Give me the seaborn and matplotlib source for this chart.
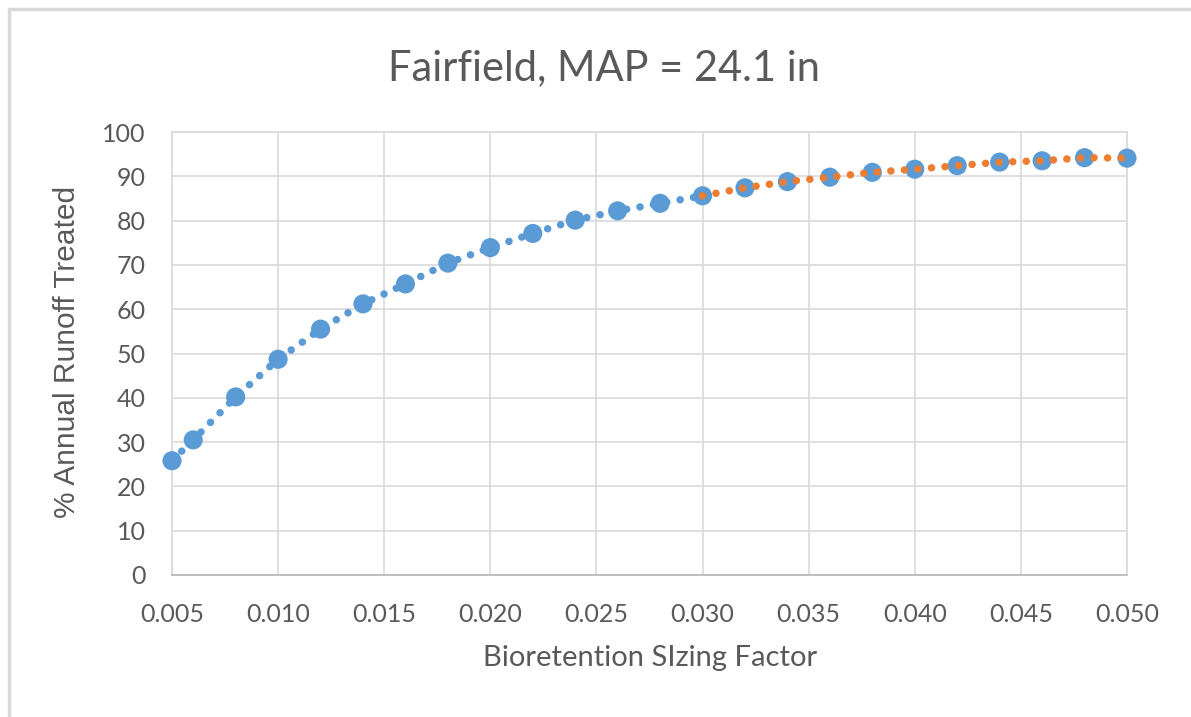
import matplotlib
matplotlib.use("Agg")
import matplotlib.pyplot as plt
import pandas as pd
import seaborn as sns
from matplotlib.lines import Line2D

# values
sizing_factor = [0.005, 0.006, 0.008, 0.010, 0.012, 0.014, 0.016, 0.018,
                 0.020, 0.022, 0.024, 0.026, 0.028, 0.030, 0.032, 0.034,
                 0.036, 0.038, 0.040, 0.042, 0.044, 0.046, 0.048, 0.050]
pct_treated = [25.8, 30.5, 40.2, 48.7, 55.5, 61.2, 65.7, 70.4,
               73.9, 77.1, 80.1, 82.2, 83.9, 85.6, 87.4, 88.8,
               89.8, 90.9, 91.6, 92.4, 93.2, 93.5, 94.2, 94.1]
trend_split = 0.030  # blue trend up to here, orange after
x_ticks = [0.005, 0.010, 0.015, 0.020, 0.025, 0.030, 0.035, 0.040, 0.045, 0.050]
y_ticks = [0, 10, 20, 30, 40, 50, 60, 70, 80, 90, 100]

TITLE = "Fairfield, MAP = 24.1 in"
XLABEL = "Bioretention SIzing Factor"
YLABEL = "% Annual Runoff Treated"

BLUE = "#5B9BD5"
ORANGE = "#ED7D31"
GRID = "#D9D9D9"
TEXT = "#595959"

df = pd.DataFrame({"sf": sizing_factor, "pct": pct_treated})
low = df[df.sf <= trend_split]
high = df[df.sf >= trend_split]

sns.set_theme(style="white")
plt.rcParams["font.family"] = ["Lato", "DejaVu Sans"]

fig = plt.figure(figsize=(11.91, 7.17), dpi=100)
ax = fig.add_axes([172 / 1191, 1 - 575 / 717, (1127 - 172) / 1191, (575 - 132) / 717])

sns.scatterplot(data=df, x="sf", y="pct", ax=ax, color=BLUE, s=190,
                edgecolor="none", clip_on=False, zorder=3)

sns.lineplot(data=low, x="sf", y="pct", ax=ax, color=BLUE, zorder=4)
sns.lineplot(data=high, x="sf", y="pct", ax=ax, color=ORANGE, zorder=4)
# excel-style round dotted trend lines
for ln in ax.lines:
    ln.set_linewidth(5.4)
    ln.set_dash_capstyle("round")
    ln.set_linestyle((0, (0.01, 1.8)))

ax.set_xlim(0.005, 0.050)
ax.set_ylim(0, 100)
ax.set_xticks(x_ticks)
ax.set_xticklabels([f"{v:.3f}" for v in x_ticks])
ax.set_yticks(y_ticks)
ax.grid(True, color=GRID, lw=1.2)
ax.tick_params(length=0, labelsize=18, colors=TEXT)
ax.tick_params(axis="x", pad=20)
ax.tick_params(axis="y", pad=19)
for s in ["top", "right", "left"]:
    ax.spines[s].set_color(GRID)
    ax.spines[s].set_linewidth(1.2)
ax.spines["bottom"].set_color("#BFBFBF")
ax.spines["bottom"].set_linewidth(1.4)

ax.set_xlabel(XLABEL, fontsize=21, color=TEXT)
ax.xaxis.set_label_coords(0.5005, -0.158)
ax.set_ylabel(YLABEL, fontsize=21.5, color=TEXT,
              family=["Liberation Sans", "DejaVu Sans"])
ax.yaxis.set_label_coords(-0.0953, 0.503)
fig.text(0.507, 1 - 68 / 717, TITLE, ha="center", va="center",
         fontsize=30, color=TEXT)

# chart frame, as in the screenshot (top and left edges only)
fig.add_artist(Line2D([9 / 1191, 1], [1 - 9 / 717] * 2, color=GRID, lw=2.5))
fig.add_artist(Line2D([9 / 1191] * 2, [0, 1 - 9 / 717], color=GRID, lw=2.5))

fig.savefig("out.png", dpi=100)
